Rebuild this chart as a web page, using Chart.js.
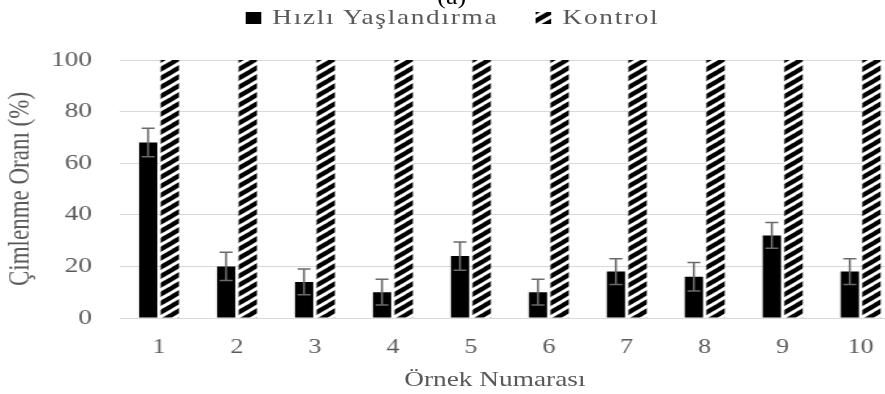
<!DOCTYPE html>
<html>
<head>
<meta charset="utf-8">
<script src="https://cdn.jsdelivr.net/npm/chart.js@4.4.3/dist/chart.umd.min.js"></script>
<style>
  html, body { margin: 0; padding: 0; background: #fff; overflow: hidden; }
  /* the reference is stretched sideways, so the whole chart is drawn narrow and scaled */
  #wrap {
    position: absolute; left: 0; top: 0;
    width: 695px; height: 394px;
    transform: scaleX(1.3); transform-origin: 0 0;
    font-family: 'Liberation Serif', 'Times New Roman', serif;
  }
  #title {
    position: absolute; left: 0; top: -13px; width: 695px;
    text-align: center; font-size: 20px; line-height: 20px; color: #000;
  }
  #legend {
    position: absolute; left: 189px; top: 7px;
    display: flex; align-items: center;
    font-size: 21px; line-height: 21px; color: #595959; letter-spacing: 1.3px;
    white-space: nowrap;
  }
  #legend .item { display: flex; align-items: center; margin-right: 29px; }
  #legend canvas { margin-right: 8.5px; }
  #xtitle {
    position: absolute; left: 311px; top: 369px;
    font-size: 21px; line-height: 21px; color: #595959; white-space: nowrap;
  }
</style>
</head>
<body>
<div id="wrap">
  <div id="title">(a)</div>
  <div id="legend"></div>
  <canvas id="chart"></canvas>
  <div id="xtitle"></div>
</div>
<script>
const labels = ['1', '2', '3', '4', '5', '6', '7', '8', '9', '10'];
const hizliValues = [68, 20, 14, 10, 24, 10, 18, 16, 32, 18];
const hizliErrors = [5.5, 5.5, 5, 5, 5.5, 5, 5, 5.5, 5, 5];
const kontrolValues = [100, 100, 100, 100, 100, 100, 100, 100, 100, 100];
const xTitle = 'Örnek Numarası';
const yTitle = 'Çimlenme Oranı (%)';

const FONT = "'Liberation Serif', 'Times New Roman', serif";
const TEXT = '#595959';
const GRID = '#d9d9d9';

// diagonal "/" hatch for the Kontrol bars
function makeHatch() {
  const c = document.createElement('canvas');
  c.width = 12;
  c.height = 9;
  const g = c.getContext('2d');
  g.fillStyle = '#fff';
  g.fillRect(0, 0, 12, 9);
  g.strokeStyle = '#000';
  g.lineWidth = 4.2;
  for (const x0 of [-12, 0, 12]) {
    g.beginPath();
    g.moveTo(x0 - 12, 18);
    g.lineTo(x0 + 24, -9);
    g.stroke();
  }
  return g.createPattern(c, 'repeat');
}

const errorBars = {
  id: 'errorBars',
  afterDatasetsDraw(chart) {
    const { ctx } = chart;
    const y = chart.scales.y;
    const meta = chart.getDatasetMeta(0);
    ctx.save();
    ctx.strokeStyle = '#6b6b6b';
    ctx.lineWidth = 1.5;
    meta.data.forEach((bar, i) => {
      const top = y.getPixelForValue(hizliValues[i] + hizliErrors[i]);
      const bottom = y.getPixelForValue(hizliValues[i] - hizliErrors[i]);
      ctx.beginPath();
      ctx.moveTo(bar.x, top);
      ctx.lineTo(bar.x, bottom);
      ctx.moveTo(bar.x - 5, top);
      ctx.lineTo(bar.x + 5, top);
      ctx.moveTo(bar.x - 5, bottom);
      ctx.lineTo(bar.x + 5, bottom);
      ctx.stroke();
    });
    ctx.restore();
  }
};

function buildLegend(chart) {
  const box = document.getElementById('legend');
  box.innerHTML = '';
  chart.data.datasets.forEach(ds => {
    const item = document.createElement('span');
    item.className = 'item';
    const sw = document.createElement('canvas');
    sw.width = 12;
    sw.height = 12;
    const g = sw.getContext('2d');
    g.fillStyle = ds.backgroundColor;
    g.fillRect(0, 0, 12, 12);
    const txt = document.createElement('span');
    txt.textContent = ds.label;
    item.appendChild(sw);
    item.appendChild(txt);
    box.appendChild(item);
  });
}

const ctx = document.getElementById('chart').getContext('2d');

const chart = new Chart(ctx, {
  type: 'bar',
  data: {
    labels,
    datasets: [
      {
        label: 'Hızlı Yaşlandırma',
        data: hizliValues,
        backgroundColor: '#000',
        categoryPercentage: 0.556,
        barPercentage: 0.843
      },
      {
        label: 'Kontrol',
        data: kontrolValues,
        backgroundColor: makeHatch(),
        categoryPercentage: 0.556,
        barPercentage: 0.843
      }
    ]
  },
  options: {
    responsive: true,
    maintainAspectRatio: false,
    animation: false,
    layout: { padding: { top: 60, right: 3, bottom: 0, left: 0 } },
    plugins: {
      legend: { display: false },
      tooltip: { enabled: false }
    },
    scales: {
      x: {
        grid: { display: false },
        border: { color: GRID },
        ticks: { color: TEXT, font: { family: FONT, size: 20 }, padding: 10 },
        afterFit: s => { s.height = 76; }
      },
      y: {
        min: 0,
        max: 100,
        grid: { color: GRID, drawTicks: false },
        border: { display: false },
        ticks: { stepSize: 20, color: TEXT, font: { family: FONT, size: 21 }, padding: 21.5 },
        title: {
          display: true,
          text: yTitle,
          color: TEXT,
          font: { family: FONT, size: 23 },
          padding: { top: 2, bottom: 0 }
        },
        afterFit: s => { s.width = 92.3; }
      }
    }
  },
  plugins: [errorBars]
});

buildLegend(chart);
// x axis title sits left of the plot centre in the reference
document.getElementById('xtitle').textContent = xTitle;
</script>
</body>
</html>
